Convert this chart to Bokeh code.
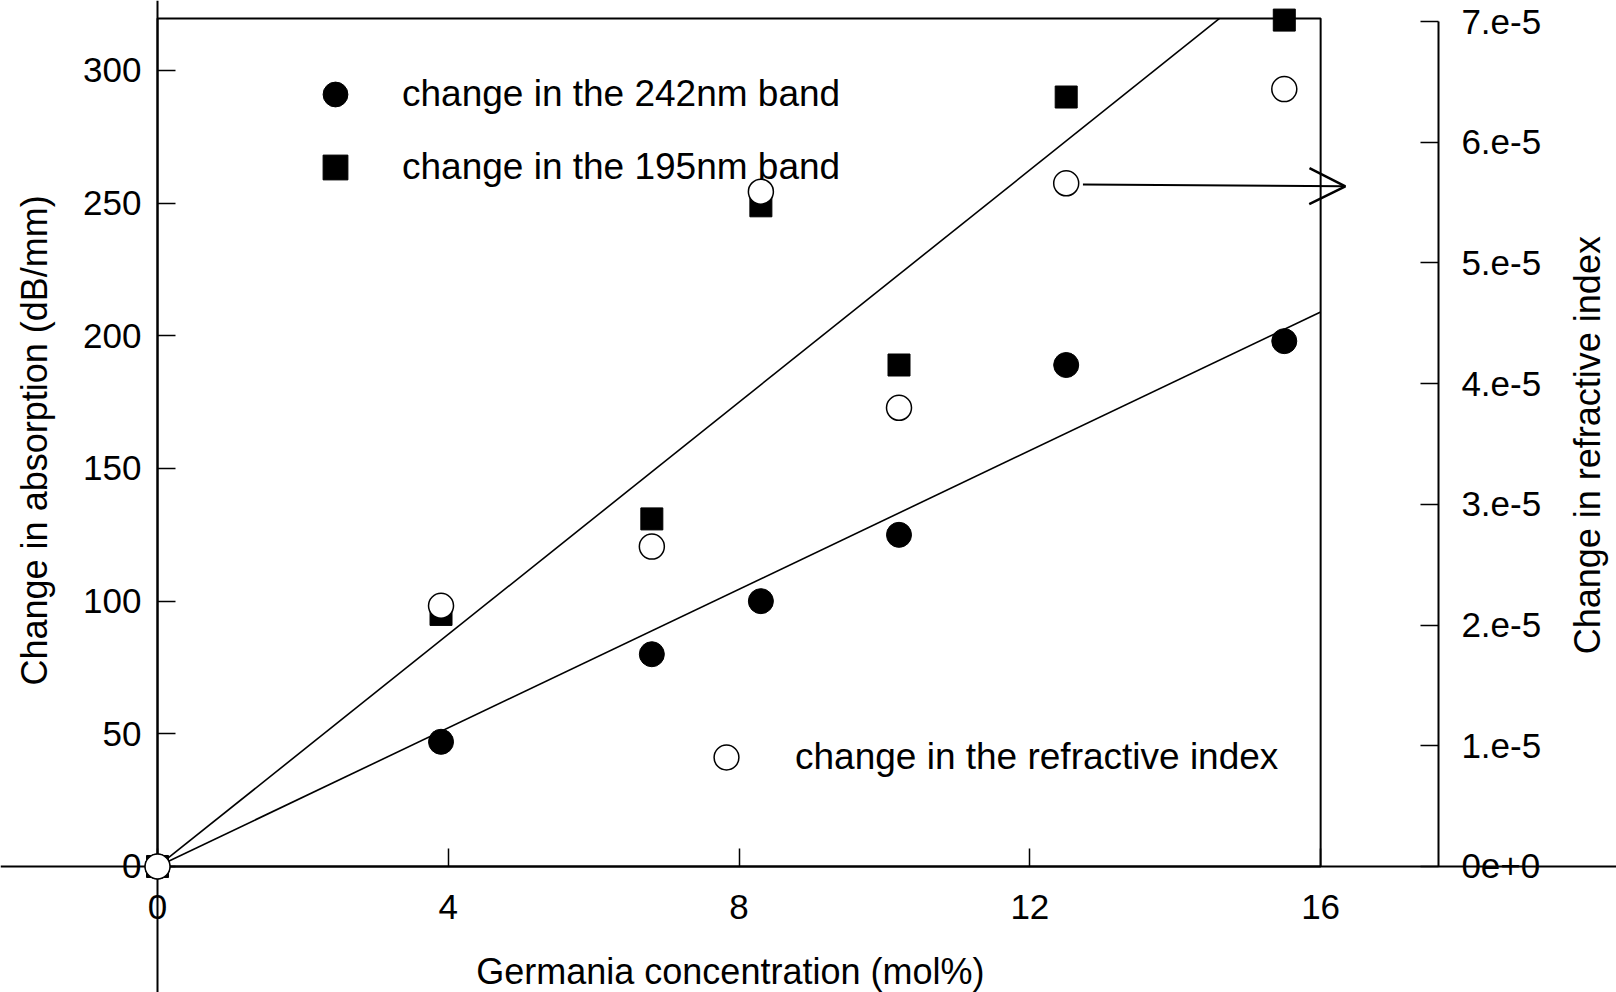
import math
from bokeh.plotting import figure
from bokeh.models import (Range1d, LinearAxis, FixedTicker, BoxAnnotation, Arrow, OpenHead,
                          Legend, LegendItem, CustomJSTickFormatter, Label)
from bokeh.embed import file_html
from bokeh.resources import INLINE

# ---------------- data ----------------
germania = [0, 3.9, 6.8, 8.3, 10.2, 12.5, 15.5]            # mol%
abs_242 = [0, 47, 80, 100, 125, 189, 198]                   # dB/mm
abs_195 = [0, 95, 131, 249, 189, 290, 319]                  # dB/mm
dn_index = [0, 2.16e-5, 2.65e-5, 5.59e-5, 3.80e-5, 5.66e-5, 6.44e-5]
fit_242_x = [0, 16]
fit_242 = [0, 209]
fit_195_x = [0, 14.61]
fit_195 = [0, 319.6]
x_ticks = [0, 4, 8, 12, 16]
y_ticks = [0, 50, 100, 150, 200, 250, 300]
dn_ticks = [0, 1e-5, 2e-5, 3e-5, 4e-5, 5e-5, 6e-5, 7e-5]

FONT = "Liberation Sans"

p = figure(width=1616, height=992, output_backend="svg", toolbar_location=None,
           x_range=Range1d(-2.16, 20.07), y_range=Range1d(-47.49, 326.38),
           x_axis_location=None, y_axis_location=None,
           min_border_left=0, min_border_right=0, min_border_top=0, min_border_bottom=0)
p.extra_y_ranges = {"ri": Range1d(-1.0438e-5, 7.174e-5)}
p.grid.visible = False
p.outline_line_color = None
p.background_fill_color = "white"


def style(ax):
    ax.axis_line_color = "black"
    ax.axis_line_width = 2
    ax.major_tick_line_color = "black"
    ax.major_tick_line_width = 1.5
    ax.major_tick_in = 18
    ax.major_tick_out = 0
    ax.minor_tick_line_color = None
    ax.major_label_text_font = FONT
    ax.major_label_text_font_size = "35px"
    ax.major_label_text_color = "black"


xaxis = LinearAxis(fixed_location=0, ticker=FixedTicker(ticks=x_ticks))
style(xaxis)
xaxis.major_label_standoff = 29
p.add_layout(xaxis, "below")

yaxis = LinearAxis(fixed_location=0, ticker=FixedTicker(ticks=y_ticks))
style(yaxis)
yaxis.major_label_standoff = 16
p.add_layout(yaxis, "left")

# right-hand scale, standing apart from the plot box
raxis = LinearAxis(y_range_name="ri", fixed_location=17.62, ticker=FixedTicker(ticks=dn_ticks),
                   bounds=(0, 7e-5),
                   formatter=CustomJSTickFormatter(
                       code="return tick == 0 ? '0e+0' : Math.round(tick*1e5) + '.e-5';"))
style(raxis)
raxis.major_label_standoff = 23
p.add_layout(raxis, "right")

# axis titles
title_style = dict(text_align="center", text_baseline="middle", text_font=FONT,
                   text_font_size="36px", text_color="black")
p.add_layout(Label(x=7.88, y=-39.6, text="Germania concentration (mol%)", **title_style))
p.add_layout(Label(x=-1.69, y=160.6, text="Change in absorption (dB/mm)",
                   angle=math.pi / 2, **title_style))
p.add_layout(Label(x=19.67, y=3.49e-5, y_range_name="ri", text="Change in refractive index",
                   angle=math.pi / 2, **title_style))

# plot box
p.add_layout(BoxAnnotation(left=0, right=16, bottom=0, top=319.6, fill_color=None, fill_alpha=0,
                           line_color="black", line_alpha=1, line_width=2))

# fit lines
p.line(fit_195_x, fit_195, line_color="black", line_width=1.6)
p.line(fit_242_x, fit_242, line_color="black", line_width=1.6)

r195 = p.scatter(germania, abs_195, marker="square", size=22, fill_color="black",
                 line_color="black", level="overlay")
r242 = p.scatter(germania, abs_242, marker="circle", size=25, fill_color="black",
                 line_color="black", level="overlay")
rdn = p.scatter(germania, dn_index, marker="circle", size=25, fill_color="white",
                line_color="black", line_width=1.5, y_range_name="ri", level="overlay")

p.add_layout(Arrow(x_start=12.73, y_start=5.65e-5, x_end=16.34, y_end=5.635e-5, y_range_name="ri",
                   line_color="black", line_width=2,
                   end=OpenHead(size=36, line_color="black", line_width=2.5)))

common = dict(glyph_width=62, glyph_height=62, padding=0, margin=0, border_line_color=None,
              background_fill_alpha=0, label_text_font=FONT, label_text_font_size="37px",
              label_text_color="black")
leg1 = Legend(items=[LegendItem(label="change in the 242nm band", renderers=[r242]),
                     LegendItem(label="change in the 195nm band", renderers=[r195])],
              location=(304, 794), spacing=11, label_standoff=36, **common)
leg2 = Legend(items=[LegendItem(label="change in the refractive index", renderers=[rdn])],
              location=(695, 204), label_standoff=38, **common)
p.add_layout(leg1)
p.add_layout(leg2)

open("out.html", "w").write(file_html(p, INLINE))
